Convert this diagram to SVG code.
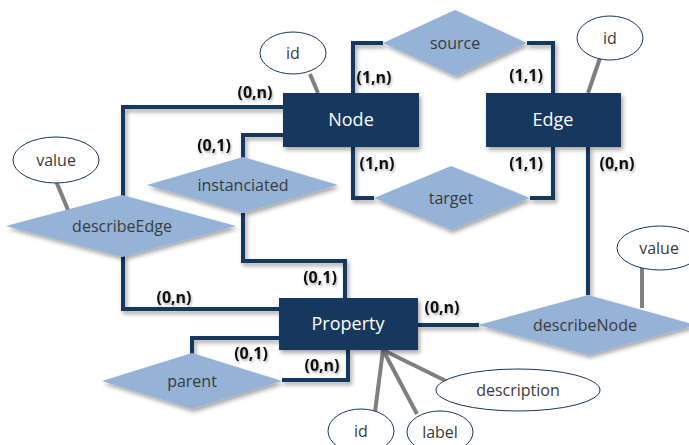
<svg xmlns="http://www.w3.org/2000/svg" width="689" height="445" viewBox="0 0 689 445">
<defs>
<style>
.ent{fill:#17375E;filter:url(#sh)}
.rel{fill:#95B3D7;filter:url(#sh)}
.att{fill:#fff;stroke:#17375E;stroke-width:1}
.lnk{fill:none;stroke:#17375E;stroke-width:4;stroke-linejoin:miter}
.al{fill:none;stroke:#7F7F7F;stroke-width:4}
.et{font-family:"Open Sans","Liberation Sans",sans-serif;font-size:18px;fill:#fff;text-anchor:middle}
.rt{font-family:"Open Sans","Liberation Sans",sans-serif;font-size:16px;fill:#3a3a3a;text-anchor:middle}
.card{font-family:"Open Sans","Liberation Sans",sans-serif;font-size:16px;font-weight:bold;fill:#111;text-anchor:middle}
</style>
<filter id="sh" filterUnits="userSpaceOnUse" x="0" y="0" width="689" height="445"><feDropShadow dx="2" dy="3" stdDeviation="2" flood-color="#000" flood-opacity="0.35"/></filter>
<filter id="tsh" filterUnits="userSpaceOnUse" x="0" y="0" width="689" height="445"><feDropShadow dx="1" dy="2" stdDeviation="1" flood-color="#000" flood-opacity="0.3"/></filter>
</defs>
<rect width="689" height="445" fill="#fff"/>
<g id="connectors">
<g filter="url(#sh)">
<path class="lnk" d="M353,93 V43 H383"/>
<path class="lnk" d="M527,43 H553 V93"/>
<path class="lnk" d="M353,147 V198 H374"/>
<path class="lnk" d="M530,198 H553 V147"/>
<path class="lnk" d="M588,147 V295"/>
<path class="lnk" d="M418,325 H479"/>
<path class="lnk" d="M283,107 H123 V196"/>
<path class="lnk" d="M283,135 H243 V158"/>
<path class="lnk" d="M243,213 V261 H345 V298"/>
<path class="lnk" d="M123,256 V309 H279"/>
<path class="lnk" d="M192,354 V338 H279"/>
<path class="lnk" d="M282,380 H348 V350"/>
</g>
<path class="al" d="M310,74 L318,93"/>
<path class="al" d="M56,181 L68,210"/>
<path class="al" d="M600,58 L588,93"/>
<path class="al" d="M642,268 V308"/>
<path class="al" d="M383,350 L375,412"/>
<path class="al" d="M383,350 L417,414"/>
<path class="al" d="M383,350 L446,381"/>
</g>
<g id="node-Node"><rect class="ent" x="283" y="93" width="136" height="54"/><text class="et" x="351" y="126">Node</text></g>
<g id="node-Edge"><rect class="ent" x="486" y="93" width="135" height="54"/><text class="et" x="553" y="126">Edge</text></g>
<g id="node-Property"><rect class="ent" x="279" y="298" width="139" height="52"/><text class="et" x="348" y="330">Property</text></g>
<g id="rel-source"><polygon class="rel" points="383,43 455,10 527,43 455,76"/><text class="rt" x="455" y="49">source</text></g>
<g id="rel-target"><polygon class="rel" points="374,198 451,166 530,198 451,230"/><text class="rt" x="451" y="204">target</text></g>
<g id="rel-instanciated"><polygon class="rel" points="147,185 243,157 338,185 243,213"/><text class="rt" x="243" y="191">instanciated</text></g>
<g id="rel-describeEdge"><polygon class="rel" points="6,226 122,195 236,226 122,257"/><text class="rt" x="122" y="232">describeEdge</text></g>
<g id="rel-parent"><polygon class="rel" points="102,381 192,353 282,381 192,409"/><text class="rt" x="192" y="387">parent</text></g>
<g id="rel-describeNode"><polygon class="rel" points="478,325 588,295 696,325 588,355"/><text class="rt" x="585" y="331">describeNode</text></g>
<g id="attr-node-id"><ellipse class="att" cx="293" cy="53" rx="33" ry="21"/><text class="rt" x="293" y="59">id</text></g>
<g id="attr-edge-id"><ellipse class="att" cx="610" cy="38" rx="33" ry="22"/><text class="rt" x="610" y="44">id</text></g>
<g id="attr-value-left"><ellipse class="att" cx="56" cy="160" rx="43" ry="23"/><text class="rt" x="56" y="166">value</text></g>
<g id="attr-value-right"><ellipse class="att" cx="660" cy="248" rx="43" ry="22"/><text class="rt" x="659" y="254">value</text></g>
<g id="attr-description"><ellipse class="att" cx="518" cy="390" rx="82" ry="21"/><text class="rt" x="518" y="396">description</text></g>
<g id="attr-prop-id"><ellipse class="att" cx="361" cy="431" rx="33" ry="22"/><text class="rt" x="361" y="437">id</text></g>
<g id="attr-label"><ellipse class="att" cx="440" cy="432" rx="33" ry="21"/><text class="rt" x="440" y="438">label</text></g>
<g id="labels" filter="url(#tsh)">
<text class="card" x="255" y="98">(0,n)</text>
<text class="card" x="214" y="151">(0,1)</text>
<text class="card" x="374" y="83">(1,n)</text>
<text class="card" x="526" y="81">(1,1)</text>
<text class="card" x="377" y="169">(1,n)</text>
<text class="card" x="526" y="169">(1,1)</text>
<text class="card" x="617" y="169">(0,n)</text>
<text class="card" x="320" y="283">(0,1)</text>
<text class="card" x="174" y="303">(0,n)</text>
<text class="card" x="251" y="359">(0,1)</text>
<text class="card" x="322" y="371">(0,n)</text>
<text class="card" x="442" y="313">(0,n)</text>
</g>
</svg>
